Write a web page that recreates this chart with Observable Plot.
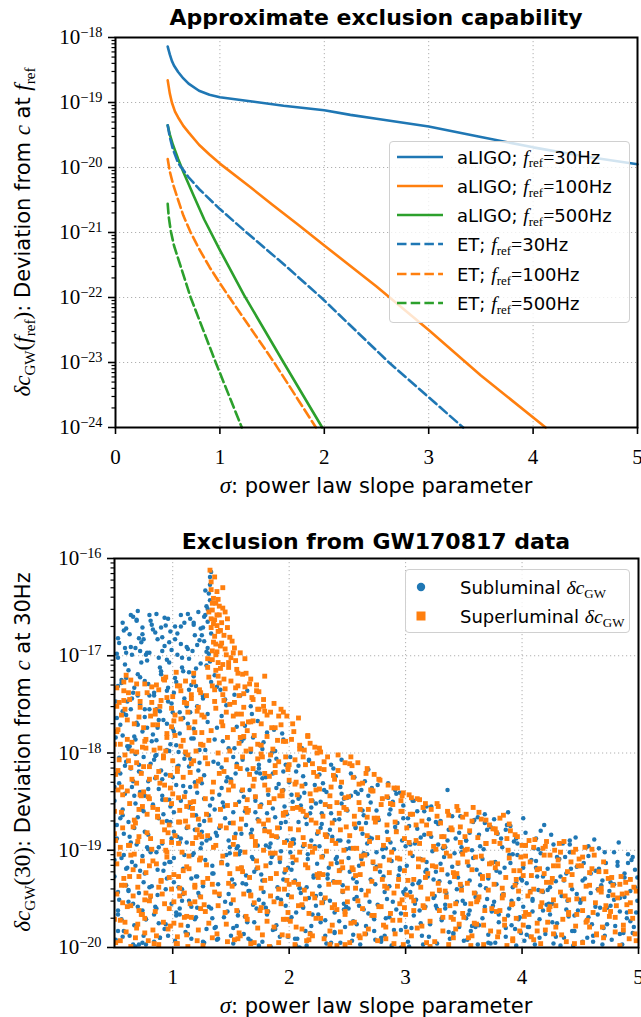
<!DOCTYPE html>
<html><head><meta charset="utf-8">
<script src="https://cdn.jsdelivr.net/npm/d3@7"></script>
<script src="https://cdn.jsdelivr.net/npm/@observablehq/plot@0.6"></script>
<style>
body{margin:0;background:#fff;}
#wrap{position:relative;width:641px;height:1017px;overflow:hidden;font-family:"DejaVu Sans",sans-serif;color:#000;}
.abs{position:absolute;white-space:nowrap;}
.title{font-weight:700;font-size:22px;line-height:28px;left:115px;width:522px;text-align:center;}
.xlab{font-size:21px;line-height:28px;left:115px;width:522px;text-align:center;}
.ylab{font-size:21px;line-height:26px;transform:translate(-50%,-50%) rotate(-90deg);}
.m{font-family:"Liberation Serif",serif;font-style:italic;font-size:1.1em;}
.r{font-family:"Liberation Serif",serif;font-size:1.1em;}
.sub{font-family:"Liberation Serif",serif;font-size:0.72em;position:relative;top:0.3em;}
.legend{position:absolute;background:rgba(255,255,255,0.8);border:1px solid #d0d0d0;border-radius:4px;box-sizing:border-box;}
.lt{position:absolute;font-size:18px;line-height:22px;white-space:nowrap;}
svg{position:absolute;left:0;}
</style></head>
<body><div id="wrap"></div>
<script>
// ---------- top panel: approximate exclusion capability (sigma, log10 deltaC) ----------
const xTicksTop = [0, 1, 2, 3, 4, 5];
const decadesTop = [-24, -23, -22, -21, -20, -19, -18];
const aLIGO30 = [[0.5,-18.14],[0.52,-18.26],[0.54,-18.36],[0.56,-18.43],[0.6,-18.53],[0.65,-18.63],[0.7,-18.71],[0.8,-18.82],[0.9,-18.88],[1.0,-18.92],[1.29,-18.98],[1.61,-19.05],[2.0,-19.12],[2.25,-19.19],[2.5,-19.25],[3.0,-19.37],[3.5,-19.53],[4.0,-19.69],[4.5,-19.83],[5.0,-19.95]];
const aLIGO100 = [[0.5,-18.66],[0.52,-18.86],[0.54,-19.0],[0.57,-19.14],[0.6,-19.23],[0.65,-19.36],[0.7,-19.46],[0.8,-19.65],[0.9,-19.8],[1.0,-19.94],[1.29,-20.3],[1.5,-20.57],[1.75,-20.88],[2.0,-21.2],[2.5,-21.83],[3.0,-22.5],[3.5,-23.2],[4.12,-24.0]];
const aLIGO500 = [[0.5,-19.35],[0.52,-19.49],[0.55,-19.65],[0.6,-19.87],[0.65,-20.07],[0.75,-20.44],[0.85,-20.8],[1.0,-21.27],[1.23,-21.96],[1.61,-23.0],[1.98,-24.0]];
const ET30 = [[0.5,-19.35],[0.52,-19.53],[0.55,-19.72],[0.6,-19.93],[0.7,-20.15],[0.8,-20.33],[1.0,-20.64],[1.27,-21.02],[1.62,-21.5],[1.97,-22.0],[2.62,-23.0],[3.33,-24.0]];
const ET100 = [[0.5,-19.87],[0.52,-20.06],[0.55,-20.25],[0.6,-20.5],[0.65,-20.74],[0.72,-21.0],[0.8,-21.25],[0.9,-21.53],[1.0,-21.78],[1.1,-22.02],[1.52,-23.0],[1.92,-24.0]];
const ET500 = [[0.5,-20.56],[0.51,-20.76],[0.53,-20.98],[0.56,-21.2],[0.62,-21.5],[0.72,-22.0],[0.84,-22.5],[0.96,-23.0],[1.21,-24.0]];
const seriesData = [aLIGO30, aLIGO100, aLIGO500, ET30, ET100, ET500];
const seriesColors = ["#1f77b4","#ff7f0e","#2ca02c","#1f77b4","#ff7f0e","#2ca02c"];
const seriesDashed = [false,false,false,true,true,true];
const legendDetector = ["aLIGO","aLIGO","aLIGO","ET","ET","ET"];
const legendFreq = ["30Hz","100Hz","500Hz","30Hz","100Hz","500Hz"];

// ---------- bottom panel: GW170817 exclusion (sigma, log10 deltaC at 30Hz) ----------
const xTicksBottom = [1, 2, 3, 4, 5];
const decadesBottom = [-20, -19, -18, -17, -16];
const subluminalColumns = [
[0.51,-19.92],[0.56,-19.71],[0.63,-19.88],[0.70,-19.58],[0.74,-19.95],[0.53,-19.43],[0.60,-19.36],[0.67,-19.77],[0.72,-19.21],[0.58,-19.05],[0.52,-18.88],[0.65,-19.12],[0.69,-18.94],[0.55,-18.67],[0.62,-18.71],[0.73,-18.58],[0.50,-18.35],[0.59,-18.42],[0.66,-18.29],[0.71,-18.12],[0.54,-18.05],[0.61,-17.93],[0.68,-18.01],[0.74,-17.78],[0.52,-17.64],[0.57,-17.82],[0.64,-17.55],[0.70,-17.41],[0.56,-17.28],[0.62,-17.15],[0.67,-17.33],[0.73,-17.07],[0.59,-16.92],[0.65,-16.99],[0.71,-16.82],[0.57,-16.66],[0.66,-16.6],[0.70,-16.54],[0.63,-16.78],[0.74,-16.71],[0.53,-17.02],[0.51,-17.47],[0.60,-17.61],[0.69,-17.69],[0.55,-18.21],[0.64,-18.16],[0.72,-18.4],[0.58,-18.83],[0.68,-18.52],[0.62,-19.53],[0.53,-19.66],[0.66,-19.97],[0.71,-19.44],[0.57,-19.89],[0.74,-19.62],[0.61,-19.18],[0.50,-19.1],[0.68,-17.86],[0.72,-16.95],[0.60,-17.23],[0.54,-16.87],[0.67,-18.77],
[0.77,-19.97],[0.93,-19.81],[0.84,-19.66],[0.99,-19.55],[0.80,-19.38],[0.89,-19.9],[0.76,-19.24],[0.95,-19.29],[0.86,-19.02],[0.79,-18.84],[0.91,-18.93],[0.98,-18.71],[0.83,-18.55],[0.75,-18.6],[0.88,-18.37],[0.94,-18.22],[0.81,-18.11],[0.97,-17.98],[0.86,-17.87],[0.78,-17.74],[0.92,-17.66],[0.99,-17.49],[0.84,-17.41],[0.76,-17.26],[0.90,-17.19],[0.95,-17.04],[0.80,-16.97],[0.87,-16.83],[0.98,-16.75],[0.82,-16.68],[0.86,-16.57],[0.93,-16.9],[0.77,-16.99],[0.89,-17.57],[0.96,-17.33],[0.79,-18.29],[0.85,-18.03],[0.91,-18.48],[0.97,-19.12],[0.81,-19.48],[0.88,-19.75],[0.94,-19.4],[0.75,-19.88],[0.99,-18.88],[0.83,-17.81],[0.90,-16.71],[0.78,-18.97],[0.95,-17.7],[0.87,-19.2],[0.80,-17.55],[0.92,-18.63],[0.84,-19.94],[0.97,-16.86],[0.76,-18.44],[0.89,-17.12],
[1.02,-19.93],[1.11,-19.84],[1.19,-19.71],[1.06,-19.6],[1.23,-19.47],[1.14,-19.52],[1.01,-19.33],[1.09,-19.19],[1.17,-19.05],[1.24,-18.98],[1.04,-18.86],[1.12,-18.77],[1.20,-18.64],[1.07,-18.49],[1.15,-18.35],[1.00,-18.25],[1.22,-18.18],[1.10,-18.06],[1.03,-17.92],[1.18,-17.85],[1.13,-17.7],[1.06,-17.58],[1.21,-17.52],[1.01,-17.38],[1.16,-17.3],[1.09,-17.16],[1.24,-17.08],[1.04,-16.99],[1.12,-16.91],[1.19,-16.79],[1.07,-16.7],[1.15,-16.62],[1.22,-16.55],[1.02,-16.83],[1.10,-17.44],[1.18,-17.21],[1.05,-18.13],[1.14,-18.56],[1.23,-17.97],[1.08,-19.4],[1.16,-19.91],[1.20,-19.27],[1.03,-19.67],[1.11,-18.4],[1.25,-18.81],[1.00,-17.75],[1.17,-16.95],[1.13,-19.78],[1.06,-18.92],[1.21,-19.59],[1.09,-17.64],[1.01,-19.08],[1.24,-16.72],[1.14,-17.03],[1.19,-18.3],
[1.27,-19.95],[1.36,-19.8],[1.44,-19.69],[1.31,-19.58],[1.48,-19.45],[1.39,-19.91],[1.26,-19.37],[1.34,-19.24],[1.42,-19.12],[1.49,-19.03],[1.29,-18.9],[1.37,-18.82],[1.45,-18.67],[1.32,-18.54],[1.40,-18.43],[1.25,-18.31],[1.47,-18.25],[1.35,-18.09],[1.28,-17.97],[1.43,-17.88],[1.38,-17.74],[1.30,-17.6],[1.46,-17.51],[1.26,-17.42],[1.41,-17.35],[1.33,-17.27],[1.29,-17.1],[1.36,-17.2],[1.31,-16.98],[1.27,-16.85],[1.33,-16.77],[1.30,-16.65],[1.28,-16.58],[1.32,-16.43],[1.31,-16.36],[1.32,-16.19],[1.33,-16.14],[1.26,-16.71],[1.29,-16.49],[1.44,-18.55],[1.39,-19.35],[1.48,-18.9],[1.34,-19.7],[1.42,-18.15],[1.27,-18.7],
[1.52,-19.96],[1.61,-19.86],[1.70,-19.74],[1.56,-19.63],[1.74,-19.51],[1.65,-19.42],[1.51,-19.3],[1.59,-19.18],[1.68,-19.07],[1.73,-18.95],[1.54,-18.83],[1.63,-18.74],[1.71,-18.61],[1.57,-18.5],[1.66,-18.38],[1.50,-18.27],[1.72,-18.2],[1.60,-18.07],[1.53,-17.95],[1.69,-17.84],[1.62,-17.72],[1.55,-17.6],[1.67,-17.52],[1.58,-17.41],[1.64,-17.36],[1.70,-19.22],[1.55,-19.78],[1.63,-19.35],[1.52,-18.61],[1.68,-18.79],[1.74,-18.12],[1.59,-17.88],[1.65,-19.91],[1.57,-19.04],[1.72,-19.6],[1.61,-18.45],[1.50,-19.55],[1.67,-17.99],[1.54,-18.21],[1.73,-17.67],[1.62,-19.68],[1.56,-18.96],
[1.77,-19.94],[1.86,-19.82],[1.95,-19.71],[1.80,-19.59],[1.99,-19.46],[1.90,-19.38],[1.76,-19.25],[1.84,-19.13],[1.93,-19.01],[1.98,-18.9],[1.79,-18.78],[1.88,-18.66],[1.96,-18.55],[1.82,-18.43],[1.91,-18.32],[1.75,-18.21],[1.97,-18.12],[1.85,-18.0],[1.78,-17.89],[1.94,-17.8],[1.87,-17.76],[1.81,-19.66],[1.92,-19.89],[1.99,-19.18],[1.83,-18.97],[1.76,-18.53],[1.89,-18.06],[1.95,-18.38],[1.78,-19.43],[1.86,-19.05],[1.93,-18.72],[1.80,-18.25],[1.97,-19.57],[1.84,-19.99],[1.90,-18.87],[1.77,-17.96],
[2.07,-19.91],[2.19,-19.78],[2.02,-19.69],[2.14,-19.83],[2.23,-19.57],[2.10,-19.44],[2.05,-19.31],[2.21,-19.26],[2.16,-19.09],[2.01,-19.02],[2.12,-18.96],[2.24,-18.83],[2.08,-18.71],[2.18,-18.62],[2.03,-18.5],[2.13,-18.41],[2.22,-18.33],[2.06,-18.19],[2.17,-18.08],[2.11,-17.95],[2.04,-18.93],[2.20,-19.66],[2.09,-20.0],[2.15,-19.38],[2.00,-18.3],[2.23,-18.52],[2.12,-19.58],[2.06,-19.98],[2.19,-18.9],[2.02,-19.2],[2.14,-18.66],[2.24,-19.14],[2.09,-18.45],[2.17,-19.49],
[2.31,-19.88],[2.44,-19.95],[2.27,-19.74],[2.39,-19.64],[2.48,-19.79],[2.35,-19.52],[2.26,-19.37],[2.46,-19.43],[2.33,-19.25],[2.41,-19.13],[2.29,-19.06],[2.49,-18.99],[2.37,-18.86],[2.28,-18.73],[2.43,-18.68],[2.34,-18.55],[2.47,-18.47],[2.30,-18.38],[2.40,-18.24],[2.36,-18.12],[2.45,-18.07],[2.26,-18.96],[2.38,-19.32],[2.32,-19.96],[2.42,-18.9],[2.49,-19.58],[2.27,-18.5],[2.35,-18.79],[2.44,-19.2],[2.30,-19.5],[2.39,-19.85],
[2.54,-19.93],[2.66,-19.86],[2.73,-19.71],[2.58,-19.76],[2.51,-19.6],[2.69,-19.53],[2.62,-19.41],[2.55,-19.29],[2.74,-19.35],[2.60,-19.16],[2.67,-19.04],[2.52,-18.98],[2.71,-18.88],[2.57,-18.77],[2.64,-18.64],[2.50,-18.59],[2.70,-18.51],[2.59,-18.42],[2.65,-18.29],[2.53,-18.21],[2.68,-18.17],[2.61,-19.97],[2.72,-19.13],[2.56,-19.5],[2.63,-18.83],[2.74,-19.92],[2.57,-18.4],[2.68,-19.65],[2.51,-19.08],[2.66,-18.72],
[2.79,-19.9],[2.88,-19.98],[2.96,-19.82],[2.83,-19.7],[2.76,-19.56],[2.92,-19.61],[2.99,-19.45],[2.86,-19.37],[2.78,-19.22],[2.95,-19.18],[2.81,-19.07],[2.90,-18.99],[2.97,-18.9],[2.84,-18.81],[2.77,-18.69],[2.93,-18.72],[2.87,-18.58],[2.80,-18.47],[2.98,-18.54],[2.91,-18.38],[2.85,-18.31],[2.94,-19.3],[2.82,-19.88],[2.89,-19.53],[2.75,-19.02],[2.96,-20.0],[2.87,-18.92],
[3.02,-19.94],[3.14,-19.88],[3.21,-19.76],[3.07,-19.67],[3.17,-19.58],[3.24,-19.49],[3.04,-19.43],[3.11,-19.34],[3.19,-19.27],[3.01,-19.16],[3.13,-19.09],[3.23,-19.01],[3.08,-18.93],[3.16,-18.84],[3.03,-18.75],[3.20,-18.68],[3.10,-18.6],[3.06,-18.49],[3.22,-18.55],[3.15,-19.97],[3.05,-19.8],[3.18,-19.12],[3.12,-19.62],[3.00,-18.96],[3.24,-19.3],
[3.27,-19.96],[3.38,-19.91],[3.46,-19.79],[3.31,-19.72],[3.42,-19.64],[3.26,-19.57],[3.49,-19.52],[3.35,-19.44],[3.29,-19.32],[3.45,-19.28],[3.40,-19.17],[3.33,-19.07],[3.48,-19.02],[3.28,-18.94],[3.43,-18.88],[3.37,-18.79],[3.30,-18.7],[3.47,-18.65],[3.36,-18.38],[3.41,-19.85],[3.34,-19.6],[3.26,-19.22],[3.44,-19.4],[3.32,-18.98],
[3.53,-19.92],[3.62,-19.97],[3.71,-19.87],[3.57,-19.78],[3.66,-19.7],[3.74,-19.63],[3.51,-19.55],[3.60,-19.48],[3.69,-19.39],[3.55,-19.31],[3.64,-19.25],[3.72,-19.14],[3.58,-19.08],[3.67,-18.99],[3.52,-18.9],[3.63,-18.84],[3.73,-18.76],[3.59,-18.69],[3.68,-18.63],[3.56,-19.83],[3.70,-19.5],[3.61,-19.2],[3.54,-19.66],
[3.77,-19.95],[3.86,-19.89],[3.94,-19.81],[3.80,-19.74],[3.98,-19.69],[3.89,-19.6],[3.76,-19.53],[3.84,-19.45],[3.92,-19.38],[3.99,-19.29],[3.81,-19.23],[3.90,-19.13],[3.96,-19.05],[3.83,-18.97],[3.93,-18.91],[3.79,-18.83],[3.87,-18.74],[3.88,-18.61],[3.95,-19.98],[3.78,-19.35],[3.91,-19.77],[3.85,-19.18],[3.97,-19.5],
[4.02,-19.93],[4.11,-19.97],[4.20,-19.86],[4.06,-19.79],[4.15,-19.71],[4.24,-19.66],[4.01,-19.58],[4.09,-19.5],[4.18,-19.43],[4.04,-19.34],[4.13,-19.27],[4.22,-19.19],[4.08,-19.1],[4.16,-19.03],[4.03,-18.95],[4.12,-18.88],[4.19,-18.74],[4.23,-19.55],[4.07,-19.89],[4.14,-19.41],
[4.27,-19.96],[4.36,-19.9],[4.45,-19.83],[4.30,-19.75],[4.40,-19.68],[4.48,-19.62],[4.26,-19.55],[4.34,-19.47],[4.43,-19.4],[4.29,-19.32],[4.38,-19.24],[4.47,-19.17],[4.32,-19.09],[4.41,-19.02],[4.35,-18.93],[4.46,-18.87],[4.28,-19.86],[4.44,-19.98],[4.39,-19.52],
[4.52,-19.94],[4.61,-19.88],[4.70,-19.8],[4.55,-19.73],[4.65,-19.66],[4.73,-19.59],[4.51,-19.51],[4.59,-19.44],[4.68,-19.36],[4.54,-19.29],[4.63,-19.21],[4.72,-19.13],[4.57,-19.06],[4.66,-18.98],[4.62,-18.89],[4.69,-19.97],[4.74,-19.47],[4.56,-19.9],
[4.77,-19.92],[4.86,-19.97],[4.95,-19.85],[4.80,-19.78],[4.90,-19.7],[4.98,-19.64],[4.76,-19.57],[4.84,-19.49],[4.93,-19.42],[4.79,-19.35],[4.88,-19.28],[4.97,-19.2],[4.82,-19.12],[4.91,-19.04],[4.95,-19.07],[4.83,-18.92],[4.87,-19.85],[4.99,-19.52]
];
const subluminalBands = [
[0.53,-19.62],[0.58,-19.83],[0.66,-19.55],[0.71,-19.97],[0.77,-19.71],[0.85,-19.58],[0.89,-19.9],[0.94,-19.76],[1.03,-19.64],[1.08,-19.52],[1.13,-19.86],[1.2,-19.69],[1.26,-19.94],[1.33,-19.6],[1.37,-19.79],[1.45,-19.53],[1.5,-19.88],[1.56,-19.67],[1.64,-19.74],[1.69,-19.56],[1.74,-19.98],[1.82,-19.63],[1.88,-19.81],[1.93,-19.51],[2.0,-19.72],[2.05,-19.91],[2.12,-19.59],[2.18,-19.85],[2.25,-19.66],[2.29,-19.54],[2.36,-19.95],[2.43,-19.73],[2.47,-19.61],[2.55,-19.87],[2.6,-19.57],[2.66,-19.78],[2.72,-19.68],[2.79,-19.92],[2.84,-19.5],[2.9,-19.82],[2.96,-19.65],[3.03,-19.99],[3.08,-19.55],[3.13,-19.75],[3.2,-19.89],[3.27,-19.6],[3.31,-19.7],[3.37,-19.84],[3.44,-19.53],[3.5,-19.93],[3.55,-19.62],[3.63,-19.77],[3.68,-19.58],[3.73,-19.96],[3.8,-19.66],[3.86,-19.8],[3.91,-19.52],[3.97,-19.71],[4.04,-19.87],[4.09,-19.63],[4.15,-19.9],[4.21,-19.56],[4.26,-19.74],[4.33,-19.98],[4.38,-19.61],[4.43,-19.83],[4.5,-19.54],[4.57,-19.69],[4.61,-19.94],[4.67,-19.59],[4.73,-19.76],[4.79,-19.51],[4.84,-19.86],[4.9,-19.64],[4.96,-19.79],
[0.5,-19.27],[0.56,-19.08],[0.62,-19.41],[0.68,-19.16],[0.75,-19.33],[0.81,-19.02],[0.87,-19.46],[0.92,-19.21],[0.98,-19.12],[1.05,-19.38],[1.1,-19.05],[1.16,-19.29],[1.22,-19.44],[1.28,-19.1],[1.35,-19.24],[1.4,-19.47],[1.47,-19.15],[1.53,-19.35],[1.58,-19.01],[1.66,-19.42],[1.72,-19.19],[1.77,-19.31],[1.85,-19.07],[1.9,-19.49],[1.96,-19.23],[2.03,-19.13],[2.09,-19.39],[2.16,-19.04],[2.21,-19.28],[2.27,-19.45],[2.34,-19.18],[2.4,-19.09],[2.46,-19.36],[2.52,-19.22],[2.58,-19.48],[2.64,-19.03],[2.7,-19.3],[2.75,-19.17],[2.82,-19.43],[2.88,-19.11],[2.94,-19.26],[3.0,-19.4],[3.06,-19.06],[3.12,-19.32],[3.18,-19.2],[3.25,-19.47],[3.3,-19.14],[3.36,-19.25],[3.42,-19.03],[3.48,-19.37],[3.54,-19.16],[3.6,-19.44],[3.66,-19.09],[3.71,-19.29],[3.78,-19.21],[3.83,-19.46],[3.89,-19.05],[3.95,-19.34],[4.01,-19.18],[4.07,-19.42],[4.12,-19.11],[4.18,-19.27],[4.24,-19.38],[4.3,-19.07],[4.36,-19.31],[4.42,-19.19],[4.47,-19.45],[4.53,-19.13],[4.59,-19.24],[4.65,-19.4],[4.71,-19.02],[4.76,-19.33],[4.82,-19.16],[4.88,-19.48],[4.94,-19.1],[4.99,-19.28],
[0.52,-18.74],[0.57,-18.58],[0.64,-18.92],[0.7,-18.66],[0.76,-18.81],[0.83,-18.53],[0.88,-18.97],[0.95,-18.7],[1.01,-18.61],[1.07,-18.88],[1.14,-18.55],[1.19,-18.79],[1.25,-18.93],[1.31,-18.64],[1.38,-18.85],[1.43,-18.51],[1.49,-18.72],[1.55,-18.98],[1.62,-18.6],[1.67,-18.83],[1.73,-18.68],[1.8,-18.95],[1.86,-18.57],[1.92,-18.77],[1.98,-18.63],[2.04,-18.89],[2.1,-18.54],[2.15,-18.73],[2.22,-18.96],[2.28,-18.62],[2.33,-18.84],[2.39,-18.69],[2.45,-18.52],[2.51,-18.91],[2.57,-18.76],[2.63,-18.59],[2.69,-18.87],[2.74,-18.71],[2.8,-18.99],[2.86,-18.63],[2.92,-18.8],[2.98,-18.67],[3.04,-18.94],[3.1,-18.78],[3.16,-18.6],[3.22,-18.86],[3.28,-18.73],[3.34,-18.97],[3.4,-18.65],[3.46,-18.82],[3.52,-18.9],[3.58,-18.71],[3.64,-18.96],[3.7,-18.79],[3.76,-18.68],[3.82,-18.88],[3.9,-18.75],[3.96,-18.93],[4.03,-18.82],[4.1,-18.98],[4.16,-18.8],[4.27,-18.94],[4.41,-18.9],[4.55,-18.97],
[0.54,-18.31],[0.6,-18.09],[0.67,-18.44],[0.73,-18.2],[0.79,-18.37],[0.86,-18.02],[0.91,-18.27],[0.97,-18.48],[1.04,-18.14],[1.09,-18.34],[1.15,-18.06],[1.21,-18.41],[1.27,-18.23],[1.34,-18.47],[1.39,-18.11],[1.46,-18.29],[1.52,-18.04],[1.59,-18.39],[1.64,-18.17],[1.71,-18.45],[1.77,-18.26],[1.83,-18.08],[1.89,-18.36],[1.95,-18.19],[2.02,-18.43],[2.08,-18.13],[2.14,-18.32],[2.2,-18.49],[2.26,-18.22],[2.32,-18.4],[2.38,-18.16],[2.44,-18.35],[2.5,-18.46],[2.56,-18.25],[2.62,-18.38],[2.68,-18.44],[2.76,-18.33],[2.85,-18.46],[2.95,-18.41],[3.07,-18.49],
[0.51,-17.84],[0.58,-17.6],[0.63,-17.93],[0.7,-17.71],[0.76,-17.55],[0.82,-17.88],[0.88,-17.66],[0.95,-17.97],[1.0,-17.58],[1.06,-17.8],[1.12,-17.52],[1.18,-17.75],[1.24,-17.91],[1.3,-17.68],[1.36,-17.86],[1.42,-17.62],[1.48,-17.95],[1.55,-17.73],[1.61,-17.85],[1.68,-17.6],[1.75,-17.92],[1.81,-17.79],[1.88,-17.98],[1.95,-17.86],
[0.53,-17.31],[0.59,-17.09],[0.65,-17.44],[0.72,-17.22],[0.78,-17.05],[0.84,-17.38],[0.9,-17.16],[0.96,-17.47],[1.03,-17.27],[1.08,-17.02],[1.14,-17.35],[1.2,-17.13],[1.26,-17.41],[1.32,-17.06],[1.38,-17.32],[1.45,-17.45],[1.53,-17.4],
[0.6,-16.72],[0.64,-16.91],[0.69,-16.64],[0.75,-16.83],[0.8,-16.58],[0.85,-16.76],[0.91,-16.95],[0.96,-16.62],[1.02,-16.7],[1.07,-16.88],[1.13,-16.57],[1.18,-16.66],[1.23,-16.84],[1.27,-16.6],[1.3,-16.92]
];
const subluminalScatter = [
[0.52,-16.98],[0.61,-17.47],[0.58,-16.74],[0.79,-17.29],[0.93,-16.61],[1.08,-17.12],[0.67,-17.83],[1.21,-16.89],[0.84,-18.07],[0.73,-16.86],[1.15,-17.58],[0.55,-17.71],[0.98,-17.91],[1.3,-16.52],[0.64,-16.58],[0.88,-17.02],[1.04,-16.77],[0.7,-17.19],[1.26,-17.44],[0.81,-16.64],[0.95,-17.36],[1.11,-18.01],[0.59,-18.13],[0.76,-17.63],[1.18,-16.68],[0.91,-16.81],[1.01,-17.78],[0.68,-16.92],[0.86,-17.55],[1.23,-18.1],[0.53,-16.82],[1.13,-16.93],[0.78,-16.97],[0.62,-17.96],[0.97,-17.07],[1.07,-16.58],[0.72,-17.5],[1.29,-16.96],[0.9,-18.18],[0.56,-17.25],[1.16,-17.85],[0.83,-16.73],[1.02,-17.23],[0.66,-17.38],[0.94,-16.69],[1.2,-17.31],[0.75,-18.04],[1.1,-16.66],[0.6,-16.97],[0.87,-17.74],[1.05,-17.99],[0.69,-16.63],[1.25,-16.79],[0.8,-17.41],[0.99,-16.94],[0.57,-17.57],[1.14,-17.17],[0.74,-16.78],[1.32,-16.27],[1.28,-16.33],
[0.63,-18.86],[1.47,-19.63],[2.12,-18.24],[0.82,-19.37],[1.71,-18.49],[2.39,-19.84],[1.03,-18.33],[1.92,-19.12],[0.54,-19.51],[2.27,-18.77],[1.36,-18.58],[0.96,-19.88],[1.63,-19.26],[2.45,-18.42],[0.71,-18.19],[1.18,-19.03],[2.06,-19.64],[1.55,-18.11],[0.88,-18.67],[2.33,-19.29],[1.29,-19.81],[0.6,-19.19],[1.84,-18.93],[2.19,-18.56],[1.09,-19.45],[0.77,-19.71],[1.42,-18.36],[2.01,-18.04],[1.67,-19.93],[0.5,-18.49],[2.41,-19.07],[1.23,-18.74],[0.93,-19.14],[1.78,-19.55],[2.15,-19.98],[1.34,-19.16],[0.68,-19.99],[1.97,-18.71],[1.12,-18.92],[2.29,-18.31],[0.85,-18.26],[1.59,-18.83],[2.09,-19.39],[1.46,-19.05],[0.57,-18.64],[1.89,-19.77],[1.16,-19.58],[2.36,-18.62],[0.74,-19.06],[1.74,-18.16],[2.23,-19.47],[1.01,-18.81],[1.38,-19.92],[0.91,-18.44],[2.03,-18.89],[1.6,-19.34],[0.65,-18.35],[1.27,-18.47],[2.47,-19.55],[1.95,-19.3],[0.79,-18.99],[1.52,-19.8],[2.17,-18.07],[1.06,-19.66],[1.81,-18.62],[0.53,-19.83],[1.4,-18.77],[2.31,-19.72],[0.98,-18.55],[1.69,-19.09],[2.08,-18.47],[1.21,-19.27],[0.86,-19.6],[1.86,-18.21],[2.44,-18.9],[1.49,-18.97],[0.62,-19.42],[1.14,-18.14],[1.99,-19.89],[1.32,-18.88],
[2.58,-19.33],[3.41,-19.86],[4.22,-19.41],[2.91,-18.76],[3.77,-19.12],[4.63,-19.58],[3.09,-19.51],[2.67,-18.93],[4.05,-19.79],[3.55,-18.82],[4.88,-19.24],[2.79,-19.94],[3.26,-18.71],[4.37,-19.07],[3.88,-19.67],[2.53,-18.44],[4.71,-19.88],[3.17,-19.22],[2.98,-19.43],[4.14,-18.99],[3.64,-19.36],[4.52,-19.31],[2.71,-18.36],[3.34,-19.56],[4.93,-19.73],[3.95,-18.88],[2.86,-19.69],[4.29,-19.89],[3.48,-18.97],[4.79,-19.02],[3.02,-18.67],[3.71,-19.95],[2.62,-19.09],[4.45,-19.67],[3.21,-19.99],[4.0,-19.31],[2.95,-19.2],[3.83,-19.47],[4.57,-18.96],[3.38,-19.33],[2.75,-18.59],[4.18,-19.62],[3.6,-19.79],[4.97,-19.38],[3.13,-18.87],[2.55,-19.73],[4.33,-19.27],[3.92,-19.04],[2.83,-18.98],[4.66,-19.19],[3.45,-19.14],[4.09,-19.52],[3.0,-19.79],[4.84,-19.63],[3.68,-18.72],[2.64,-19.61],[4.41,-18.94],[3.29,-19.42],[3.99,-19.85],[2.89,-18.5],[4.75,-19.42],[3.57,-19.0],[4.25,-18.84],[3.06,-19.35],[2.73,-19.83],[4.6,-19.76],[3.86,-18.79],[3.18,-18.55],[4.91,-19.13],[2.6,-18.72],[3.75,-19.57],[4.12,-19.18],[3.52,-19.7],[2.92,-18.42],[4.48,-19.5],[3.36,-18.9],[4.01,-18.67],[3.62,-18.66],[4.69,-19.31],[2.81,-19.27]
];
const superluminalColumns = [
[0.51,-19.95],[0.60,-19.84],[0.68,-19.9],[0.55,-19.72],[0.73,-19.66],[0.64,-19.57],[0.52,-19.45],[0.70,-19.38],[0.58,-19.29],[0.66,-19.2],[0.74,-19.11],[0.54,-19.04],[0.62,-18.95],[0.71,-18.86],[0.57,-18.77],[0.67,-18.69],[0.50,-18.6],[0.63,-18.52],[0.72,-18.43],[0.56,-18.35],[0.65,-18.27],[0.53,-18.18],[0.69,-18.1],[0.59,-18.02],[0.74,-17.94],[0.61,-17.86],[0.52,-17.78],[0.67,-17.7],[0.56,-17.61],[0.72,-17.53],[0.63,-17.45],[0.58,-17.36],[0.69,-17.29],[0.60,-17.2],[0.54,-17.48],[0.65,-17.98],[0.71,-18.58],[0.57,-19.54],[0.64,-19.99],[0.51,-18.9],[0.70,-19.76],[0.61,-18.39],[0.73,-18.21],[0.55,-17.91],[0.66,-19.47],
[0.79,-19.93],[0.88,-19.97],[0.96,-19.81],[0.76,-19.7],[0.85,-19.63],[0.93,-19.55],[0.81,-19.47],[0.99,-19.4],[0.90,-19.31],[0.77,-19.23],[0.86,-19.14],[0.95,-19.07],[0.82,-18.99],[0.91,-18.91],[0.78,-18.82],[0.97,-18.74],[0.87,-18.65],[0.83,-18.56],[0.94,-18.48],[0.75,-18.4],[0.89,-18.31],[0.98,-18.23],[0.80,-18.14],[0.92,-18.05],[0.84,-17.97],[0.76,-17.88],[0.95,-17.8],[0.87,-17.71],[0.81,-17.62],[0.99,-17.54],[0.90,-17.46],[0.78,-17.38],[0.86,-17.3],[0.93,-17.25],[0.83,-19.82],[0.97,-19.28],[0.79,-18.45],[0.91,-18.71],[0.85,-17.56],[0.99,-18.92],[0.76,-19.51],[0.94,-17.98],[0.88,-19.38],[0.80,-18.27],
[1.03,-19.96],[1.12,-19.87],[1.21,-19.93],[1.07,-19.77],[1.16,-19.69],[1.24,-19.6],[1.01,-19.53],[1.10,-19.44],[1.19,-19.36],[1.05,-19.27],[1.14,-19.19],[1.23,-19.1],[1.08,-19.02],[1.17,-18.93],[1.02,-18.85],[1.13,-18.76],[1.22,-18.68],[1.06,-18.59],[1.15,-18.51],[1.00,-18.42],[1.20,-18.34],[1.09,-18.25],[1.04,-18.16],[1.18,-18.08],[1.11,-17.99],[1.24,-17.91],[1.02,-17.82],[1.14,-17.74],[1.07,-17.65],[1.21,-17.57],[1.10,-17.48],[1.16,-17.4],[1.04,-17.31],[1.18,-17.18],[1.23,-17.35],[1.12,-18.55],[1.06,-19.39],[1.20,-18.87],[1.01,-19.75],[1.15,-18.2],[1.09,-17.87],[1.24,-19.48],[1.13,-19.99],[1.05,-18.71],[1.19,-17.68],
[1.32,-16.12],[1.33,-16.24],[1.38,-16.34],[1.37,-16.46],[1.34,-16.53],[1.40,-16.58],[1.36,-16.63],[1.42,-16.66],[1.33,-16.71],[1.39,-16.75],[1.44,-16.79],[1.35,-16.86],[1.41,-16.9],[1.38,-16.96],[1.46,-16.99],[1.34,-17.04],[1.43,-17.09],[1.37,-17.15],[1.48,-17.12],[1.31,-17.22],[1.40,-17.28],[1.45,-17.34],[1.29,-17.41],[1.36,-17.47],[1.49,-17.5],[1.27,-17.63],[1.42,-17.68],[1.33,-17.77],[1.47,-17.84],[1.26,-17.92],[1.39,-18.0],[1.30,-18.11],[1.44,-18.19],[1.35,-18.3],[1.48,-18.38],[1.28,-18.47],[1.41,-18.58],[1.32,-18.69],[1.46,-18.77],[1.25,-18.86],[1.37,-18.95],[1.43,-19.06],[1.29,-19.15],[1.49,-19.24],[1.34,-19.35],[1.40,-19.45],[1.27,-19.56],[1.45,-19.64],[1.31,-19.75],[1.38,-19.86],[1.47,-19.94],[1.26,-19.98],[1.36,-16.8],[1.43,-17.4],[1.30,-18.85],
[1.51,-16.85],[1.54,-17.05],[1.58,-16.97],[1.63,-17.18],[1.67,-17.24],[1.72,-17.3],[1.56,-17.31],[1.61,-17.39],[1.53,-17.48],[1.69,-17.45],[1.74,-17.55],[1.59,-17.6],[1.65,-17.68],[1.52,-17.76],[1.70,-17.82],[1.57,-17.9],[1.63,-17.98],[1.73,-18.06],[1.55,-18.14],[1.66,-18.22],[1.50,-18.3],[1.60,-18.38],[1.71,-18.45],[1.54,-18.53],[1.64,-18.61],[1.74,-18.7],[1.58,-18.78],[1.68,-18.86],[1.52,-18.94],[1.62,-19.02],[1.72,-19.11],[1.56,-19.19],[1.66,-19.28],[1.51,-19.37],[1.61,-19.45],[1.70,-19.54],[1.55,-19.62],[1.64,-19.71],[1.73,-19.8],[1.58,-19.88],[1.67,-19.96],[1.53,-19.92],[1.69,-18.16],[1.60,-17.7],
[1.78,-17.52],[1.84,-17.58],[1.93,-17.55],[1.98,-17.62],[1.76,-17.7],[1.88,-17.74],[1.81,-17.83],[1.95,-17.88],[1.86,-17.96],[1.77,-18.04],[1.91,-18.09],[1.99,-18.17],[1.83,-18.24],[1.79,-18.33],[1.94,-18.39],[1.87,-18.47],[1.75,-18.55],[1.97,-18.61],[1.82,-18.69],[1.90,-18.77],[1.85,-18.85],[1.96,-18.92],[1.78,-19.0],[1.92,-19.08],[1.80,-19.16],[1.89,-19.24],[1.98,-19.31],[1.76,-19.39],[1.84,-19.47],[1.93,-19.55],[1.81,-19.63],[1.95,-19.71],[1.87,-19.79],[1.77,-19.87],[1.91,-19.95],[1.99,-19.88],[1.83,-19.99],[1.88,-18.13],[1.79,-18.8],[1.96,-19.4],
[2.02,-17.86],[2.09,-17.92],[2.18,-17.9],[2.24,-18.0],[2.05,-18.07],[2.14,-18.12],[2.21,-18.2],[2.00,-18.28],[2.11,-18.34],[2.07,-18.43],[2.19,-18.49],[2.03,-18.57],[2.15,-18.64],[2.23,-18.72],[2.08,-18.79],[2.12,-18.87],[2.01,-18.95],[2.20,-19.02],[2.06,-19.1],[2.16,-19.18],[2.24,-19.25],[2.04,-19.33],[2.13,-19.41],[2.22,-19.49],[2.08,-19.57],[2.17,-19.65],[2.01,-19.73],[2.11,-19.81],[2.20,-19.88],[2.05,-19.97],[2.15,-19.93],[2.23,-18.38],[2.10,-18.58],[2.02,-19.48],[2.18,-18.96],
[2.27,-17.99],[2.33,-18.04],[2.42,-18.02],[2.48,-18.1],[2.30,-18.17],[2.38,-18.23],[2.45,-18.3],[2.26,-18.37],[2.35,-18.44],[2.41,-18.51],[2.49,-18.58],[2.29,-18.65],[2.37,-18.72],[2.44,-18.79],[2.32,-18.86],[2.40,-18.93],[2.47,-19.0],[2.28,-19.07],[2.36,-19.14],[2.43,-19.21],[2.25,-19.28],[2.34,-19.35],[2.46,-19.42],[2.31,-19.49],[2.39,-19.56],[2.48,-19.63],[2.27,-19.7],[2.37,-19.77],[2.44,-19.84],[2.30,-19.91],[2.41,-19.98],[2.35,-18.55],[2.46,-19.18],
[2.53,-18.04],[2.59,-18.1],[2.67,-18.16],[2.73,-18.22],[2.55,-18.25],[2.63,-18.31],[2.70,-18.38],[2.51,-18.45],[2.60,-18.51],[2.68,-18.58],[2.56,-18.65],[2.74,-18.71],[2.62,-18.78],[2.52,-18.85],[2.69,-18.91],[2.58,-18.98],[2.65,-19.05],[2.72,-19.12],[2.54,-19.18],[2.61,-19.25],[2.71,-19.32],[2.57,-19.39],[2.66,-19.46],[2.50,-19.53],[2.63,-19.6],[2.73,-19.67],[2.56,-19.74],[2.68,-19.81],[2.60,-19.88],[2.52,-19.95],
[2.77,-18.27],[2.85,-18.33],[2.93,-18.36],[2.98,-18.41],[2.80,-18.47],[2.89,-18.53],[2.96,-18.6],[2.76,-18.67],[2.84,-18.74],[2.92,-18.81],[2.99,-18.88],[2.81,-18.95],[2.88,-19.02],[2.95,-19.09],[2.78,-19.16],[2.86,-19.23],[2.94,-19.3],[2.82,-19.37],[2.90,-19.44],[2.97,-19.51],[2.79,-19.58],[2.87,-19.65],[2.95,-19.72],[2.83,-19.79],[2.91,-19.86],[2.76,-19.93],[2.98,-19.97],
[3.03,-18.43],[3.12,-18.48],[3.17,-18.52],[3.22,-18.58],[3.06,-18.63],[3.14,-18.7],[3.01,-18.77],[3.20,-18.83],[3.09,-18.9],[3.24,-18.96],[3.04,-19.03],[3.15,-19.1],[3.11,-19.17],[3.19,-19.24],[3.02,-19.31],[3.13,-19.38],[3.23,-19.45],[3.07,-19.52],[3.16,-19.59],[3.00,-19.66],[3.21,-19.73],[3.10,-19.8],[3.05,-19.88],[3.18,-19.95],
[3.27,-18.52],[3.36,-18.6],[3.44,-18.55],[3.49,-18.66],[3.30,-18.72],[3.40,-18.79],[3.33,-18.86],[3.47,-18.92],[3.26,-18.99],[3.38,-19.06],[3.45,-19.13],[3.31,-19.2],[3.42,-19.27],[3.28,-19.34],[3.48,-19.41],[3.35,-19.48],[3.43,-19.55],[3.29,-19.62],[3.39,-19.69],[3.46,-19.76],[3.32,-19.83],[3.41,-19.9],[3.37,-19.97],
[3.58,-18.56],[3.52,-18.63],[3.65,-18.68],[3.72,-18.74],[3.55,-18.8],[3.62,-18.87],[3.69,-18.93],[3.51,-19.0],[3.60,-19.07],[3.74,-19.13],[3.57,-19.2],[3.66,-19.27],[3.53,-19.34],[3.71,-19.41],[3.63,-19.48],[3.56,-19.55],[3.68,-19.62],[3.50,-19.69],[3.61,-19.76],[3.73,-19.83],[3.54,-19.9],[3.67,-19.97],
[3.84,-18.64],[3.90,-18.8],[3.77,-18.78],[3.96,-18.86],[3.81,-18.93],[3.88,-19.0],[3.99,-19.07],[3.79,-19.14],[3.93,-19.21],[3.86,-19.28],[3.76,-19.35],[3.97,-19.42],[3.83,-19.49],[3.91,-19.56],[3.78,-19.63],[3.95,-19.7],[3.85,-19.77],[3.80,-19.84],[3.92,-19.91],[3.87,-19.98],
[4.11,-18.89],[4.03,-18.95],[4.18,-18.98],[4.24,-19.05],[4.07,-19.12],[4.15,-19.19],[4.01,-19.26],[4.21,-19.33],[4.10,-19.4],[4.05,-19.47],[4.17,-19.54],[4.23,-19.61],[4.02,-19.68],[4.13,-19.75],[4.20,-19.82],[4.08,-19.89],[4.16,-19.96],
[4.36,-18.91],[4.28,-19.0],[4.44,-19.02],[4.31,-19.1],[4.48,-19.16],[4.39,-19.22],[4.26,-19.29],[4.42,-19.36],[4.33,-19.43],[4.47,-19.5],[4.29,-19.57],[4.40,-19.64],[4.35,-19.71],[4.46,-19.78],[4.27,-19.86],[4.38,-19.94],
[4.54,-18.97],[4.62,-19.05],[4.70,-19.12],[4.51,-19.16],[4.66,-19.22],[4.74,-19.29],[4.58,-19.36],[4.68,-19.43],[4.53,-19.5],[4.72,-19.57],[4.61,-19.64],[4.56,-19.72],[4.69,-19.79],[4.64,-19.87],[4.52,-19.95],
[4.85,-19.27],[4.93,-19.3],[4.78,-19.36],[4.98,-19.42],[4.82,-19.49],[4.90,-19.56],[4.76,-19.63],[4.95,-19.7],[4.87,-19.77],[4.80,-19.84],[4.92,-19.91],[4.84,-19.98]
];
const superluminalBands = [
[0.5,-19.71],[0.55,-19.93],[0.61,-19.58],[0.69,-19.8],[0.74,-19.66],[0.8,-19.52],[0.86,-19.88],[0.92,-19.74],[0.97,-19.6],[1.04,-19.96],[1.1,-19.69],[1.15,-19.55],[1.22,-19.82],[1.28,-19.63],[1.34,-19.9],[1.39,-19.57],[1.46,-19.76],[1.52,-19.51],[1.57,-19.85],[1.63,-19.68],[1.7,-19.95],[1.76,-19.59],[1.81,-19.73],[1.87,-19.53],[1.94,-19.87],[1.99,-19.64],[2.06,-19.79],[2.11,-19.56],[2.17,-19.92],[2.23,-19.7],[2.28,-19.54],[2.35,-19.83],[2.41,-19.61],[2.48,-19.97],[2.53,-19.75],[2.59,-19.52],[2.65,-19.86],[2.71,-19.67],[2.77,-19.58],[2.83,-19.91],[2.89,-19.72],[2.95,-19.55],[3.01,-19.84],[3.07,-19.62],[3.14,-19.78],[3.19,-19.5],[3.25,-19.94],[3.32,-19.69],[3.38,-19.57],[3.43,-19.81],[3.49,-19.65],[3.56,-19.98],[3.61,-19.53],[3.67,-19.77],[3.74,-19.6],[3.79,-19.89],[3.85,-19.71],[3.92,-19.55],[3.98,-19.83],[4.03,-19.64],[4.1,-19.92],[4.16,-19.58],[4.22,-19.74],[4.27,-19.51],[4.34,-19.87],[4.4,-19.66],[4.45,-19.96],[4.52,-19.62],[4.58,-19.79],[4.63,-19.54],[4.7,-19.9],[4.75,-19.68],[4.81,-19.57],[4.87,-19.82],[4.93,-19.63],[4.98,-19.93],
[0.52,-19.14],[0.59,-19.36],[0.64,-19.05],[0.71,-19.27],[0.77,-19.44],[0.83,-19.11],[0.9,-19.32],[0.95,-19.02],[1.01,-19.25],[1.06,-19.47],[1.12,-19.17],[1.19,-19.38],[1.24,-19.08],[1.3,-19.29],[1.36,-19.43],[1.42,-19.13],[1.48,-19.34],[1.54,-19.04],[1.6,-19.22],[1.67,-19.46],[1.73,-19.18],[1.79,-19.31],[1.84,-19.03],[1.91,-19.4],[1.97,-19.2],[2.03,-19.07],[2.08,-19.35],[2.14,-19.15],[2.2,-19.45],[2.26,-19.24],[2.32,-19.01],[2.39,-19.33],[2.45,-19.12],[2.5,-19.39],[2.57,-19.26],[2.62,-19.06],[2.68,-19.42],[2.74,-19.19],[2.8,-19.3],[2.86,-19.1],[2.93,-19.37],[2.99,-19.21],[3.05,-19.48],[3.11,-19.09],[3.17,-19.28],[3.23,-19.16],[3.29,-19.41],[3.35,-19.03],[3.41,-19.23],[3.47,-19.35],[3.53,-19.12],[3.59,-19.44],[3.65,-19.06],[3.71,-19.26],[3.77,-19.18],[3.83,-19.39],[3.89,-19.08],[3.95,-19.3],[4.01,-19.14],[4.07,-19.43],[4.13,-19.2],[4.19,-19.05],[4.25,-19.33],[4.31,-19.16],[4.37,-19.47],[4.43,-19.25],[4.49,-19.09],[4.55,-19.37],[4.6,-19.19],[4.66,-19.41],[4.72,-19.22],[4.78,-19.46],[4.84,-19.35],[4.9,-19.44],[4.96,-19.38],
[0.5,-18.83],[0.56,-18.61],[0.63,-18.95],[0.68,-18.72],[0.74,-18.55],[0.81,-18.88],[0.87,-18.66],[0.93,-18.79],[0.99,-18.52],[1.05,-18.93],[1.11,-18.7],[1.17,-18.57],[1.23,-18.84],[1.29,-18.63],[1.35,-18.97],[1.41,-18.75],[1.47,-18.54],[1.53,-18.87],[1.59,-18.68],[1.65,-18.59],[1.71,-18.91],[1.78,-18.73],[1.83,-18.51],[1.89,-18.86],[1.95,-18.64],[2.01,-18.78],[2.07,-18.56],[2.13,-18.94],[2.19,-18.69],[2.25,-18.81],[2.31,-18.53],[2.37,-18.9],[2.43,-18.62],[2.49,-18.76],[2.55,-18.98],[2.61,-18.58],[2.67,-18.85],[2.73,-18.67],[2.79,-18.53],[2.85,-18.89],[2.91,-18.71],[2.97,-18.6],[3.03,-18.92],[3.09,-18.74],[3.15,-18.56],[3.21,-18.83],[3.27,-18.65],[3.33,-18.96],[3.39,-18.77],[3.45,-18.59],[3.51,-18.86],[3.57,-18.7],[3.63,-18.61],[3.69,-18.93],[3.75,-18.78],[3.81,-18.67],[3.87,-18.88],[3.94,-18.84],[4.0,-18.95],[4.06,-18.9],[4.2,-18.96],[4.32,-18.93],[4.46,-18.99],
[0.51,-18.22],[0.57,-18.43],[0.62,-18.08],[0.69,-18.31],[0.75,-18.14],[0.8,-18.47],[0.86,-18.25],[0.92,-18.03],[0.98,-18.36],[1.04,-18.19],[1.1,-18.45],[1.16,-18.11],[1.22,-18.29],[1.28,-18.05],[1.34,-18.4],[1.4,-18.21],[1.46,-18.07],[1.52,-18.34],[1.58,-18.16],[1.64,-18.48],[1.7,-18.27],[1.76,-18.01],[1.82,-18.38],[1.88,-18.2],[1.94,-18.44],[2.0,-18.12],[2.06,-18.3],[2.12,-18.04],[2.18,-18.42],[2.24,-18.24],[2.3,-18.09],[2.36,-18.35],[2.42,-18.18],[2.48,-18.46],[2.54,-18.13],[2.6,-18.32],[2.66,-18.21],[2.72,-18.39],[2.78,-18.28],[2.84,-18.45],[2.9,-18.36],[2.96,-18.49],[3.05,-18.46],
[0.53,-17.76],[0.59,-17.55],[0.65,-17.89],[0.71,-17.63],[0.77,-17.95],[0.83,-17.71],[0.89,-17.52],[0.95,-17.84],[1.01,-17.67],[1.07,-17.93],[1.13,-17.58],[1.19,-17.79],[1.25,-17.61],[1.31,-17.87],[1.37,-17.54],[1.43,-17.72],[1.49,-17.98],[1.55,-17.6],[1.61,-17.83],[1.67,-17.68],[1.73,-17.91],[1.79,-17.57],[1.85,-17.74],[1.91,-17.62],[1.97,-17.88],[2.03,-17.7],[2.09,-17.96],[2.16,-17.82],[2.22,-17.94],
[0.52,-17.33],[0.58,-17.46],[0.64,-17.25],[0.7,-17.39],[0.76,-17.29],[0.82,-17.48],[0.88,-17.35],[0.94,-17.22],[1.0,-17.42],[1.06,-17.31],[1.12,-17.49],[1.18,-17.27],[1.24,-17.38],[1.3,-17.12],[1.34,-17.31],[1.39,-17.07],[1.44,-17.24],[1.5,-17.02],[1.56,-17.18],[1.62,-17.32],[1.68,-17.43],[1.74,-17.37],
[1.31,-16.55],[1.33,-16.32],[1.35,-16.67],[1.36,-16.19],[1.37,-16.88],[1.39,-16.42],[1.41,-16.74],[1.43,-16.51],[1.45,-16.93],[1.47,-16.62],[1.49,-16.81],[1.52,-16.97],[1.34,-16.95],[1.38,-16.58]
];
const superluminalScatter = [
[1.35,-16.41],[1.42,-16.87],[1.39,-17.21],[1.55,-17.14],[1.47,-16.71],[1.61,-17.53],[1.33,-16.62],[1.72,-17.36],[1.44,-17.46],[1.58,-17.84],[1.37,-16.99],[1.81,-17.61],[1.66,-17.29],[1.5,-17.26],[1.93,-17.71],[1.4,-16.49],[1.76,-17.92],[1.53,-16.92],[2.04,-17.78],[1.46,-17.58],[1.69,-17.67],[1.87,-17.49],[1.36,-17.35],[1.62,-17.03],[2.13,-17.97],[1.43,-16.3],[1.97,-18.04],[1.57,-17.41],[1.79,-17.21],[2.2,-18.11],[1.48,-17.07],[1.64,-17.77],[1.34,-16.46],[1.9,-17.87],[1.52,-17.62],[2.08,-17.64],[1.41,-17.13],[1.73,-17.55],[1.6,-17.19],[1.84,-18.02],[2.26,-17.95],[1.45,-16.55],[1.95,-17.58],[1.67,-17.96],[1.38,-16.69],[1.78,-17.45],[2.16,-17.83],[1.54,-17.33],[1.99,-18.14],[1.3,-17.03],
[0.58,-17.27],[0.93,-18.33],[1.16,-17.44],[0.71,-19.62],[1.02,-17.61],[0.64,-18.15],[1.21,-18.79],[0.82,-17.32],[0.55,-18.97],[1.09,-19.21],[0.77,-17.86],[0.98,-19.78],[0.61,-17.66],[1.25,-17.79],[0.87,-18.58],[0.52,-17.52],[1.13,-18.02],[0.73,-18.44],[0.95,-17.43],[1.19,-19.53],[0.67,-19.04],[0.89,-17.95],[1.06,-18.71],[0.56,-19.36],[1.24,-18.27],[0.8,-19.16],[1.0,-18.08],[0.62,-17.38],[1.11,-17.26],[0.75,-17.74],[0.91,-19.45],[1.18,-18.5],[0.53,-18.38],[0.85,-17.6],[1.04,-19.89],[0.69,-17.99],[1.22,-17.53],[0.96,-18.82],[0.59,-19.74],[1.14,-19.06],[0.78,-18.63],[0.99,-17.73],[0.66,-18.76],[1.26,-19.33],[0.84,-19.96],[1.07,-17.36],[0.54,-18.07],[0.92,-17.24],[1.2,-17.98],[0.72,-17.47],[1.05,-18.46],[0.63,-19.27],[0.88,-18.19],[1.17,-18.64],[0.76,-19.85],[0.94,-19.0],[0.5,-17.91],[1.12,-19.68],[0.7,-18.91],[1.03,-17.17],
[1.63,-18.57],[2.48,-19.66],[3.31,-18.86],[4.17,-19.42],[1.84,-19.29],[2.71,-18.39],[3.59,-19.75],[4.42,-19.12],[2.02,-18.93],[2.93,-19.08],[3.78,-18.82],[4.71,-19.61],[1.56,-19.91],[2.39,-18.27],[3.15,-19.57],[4.03,-19.06],[1.92,-18.44],[2.81,-19.77],[3.66,-19.29],[4.58,-19.23],[2.14,-19.5],[3.04,-18.63],[3.92,-19.93],[4.86,-19.45],[1.71,-18.95],[2.56,-18.73],[3.44,-19.24],[4.29,-19.79],[2.26,-18.16],[3.21,-19.99],[4.1,-18.97],[1.98,-19.71],[2.87,-18.52],[3.72,-19.14],[4.64,-19.86],[1.59,-19.18],[2.43,-19.33],[3.37,-18.64],[4.24,-19.58],[2.09,-19.02],[2.99,-19.59],[3.84,-19.46],[4.8,-19.69],[1.79,-18.21],[2.63,-19.14],[3.53,-18.99],[4.36,-19.3],[2.31,-18.84],[3.1,-18.47],[3.98,-19.21],[4.93,-19.54],[1.67,-19.47],[2.52,-18.11],[3.41,-19.71],[4.21,-18.91],[2.18,-19.86],[3.07,-19.3],[3.89,-18.73],[4.52,-19.07],[1.88,-19.03],[2.76,-18.87],[3.62,-19.51],[4.47,-19.66],[2.05,-18.32],[2.97,-18.44],[3.81,-19.62],[4.68,-19.39],[1.52,-18.72],[2.35,-19.97],[3.26,-19.17],[4.13,-19.83],[1.95,-18.62],[2.84,-19.39],[3.69,-18.69],[4.6,-18.99],[2.22,-18.98],[3.12,-18.93],[4.06,-19.66],[4.97,-19.86],[1.75,-19.62],[2.61,-19.9],[3.49,-19.04],[4.33,-19.02],[2.12,-18.6],[3.01,-19.46],[3.94,-19.36],[4.77,-19.28],[1.6,-18.04],[2.47,-18.56],[3.34,-19.42],[4.19,-19.24],[2.29,-19.25],[3.18,-18.74],[4.01,-19.77],[4.89,-19.33],[1.83,-18.81],[2.67,-18.66],[3.57,-19.88],[4.4,-19.51],[2.0,-19.35],[2.9,-19.96],[3.76,-18.91],[4.55,-19.74],[1.69,-18.34],[2.55,-19.2],[3.47,-18.76],[4.27,-19.16],[2.37,-19.59],[3.28,-18.55],[4.08,-19.26]
];

// ---------- helpers ----------
const minorTicks = decs => decs.slice(0, -1).flatMap(e => [2,3,4,5,6,7,8,9].map(k => k * 10 ** e));
const toRows = pts => pts.map(([x, e]) => ({x, y: 10 ** e}));
const powFormat = d => "10^" + Math.round(Math.log10(d));
const gridStyle = {stroke: "#b0b0b0", strokeOpacity: 1, strokeWidth: 1, strokeDasharray: "1.2,2.8"};
const axisFont = {fontFamily: "'Liberation Serif', serif", fontSize: "21px", background: "transparent", overflow: "visible"};

function superscriptLabels(svg) {
  d3.select(svg).selectAll("text").each(function() {
    const m = /^10\^(-?\d+)$/.exec(this.textContent);
    if (!m) return;
    const t = d3.select(this);
    t.text("10");
    t.append("tspan").attr("dy", "-0.5em").attr("font-size", "0.68em").text(m[1].replace("-", "\u2212"));
  });
}

const wrap = document.getElementById("wrap");

// ---------- top chart ----------
const lineMarks = seriesData.map((pts, i) => Plot.line(toRows(pts), {
  x: "x", y: "y", stroke: seriesColors[i], strokeWidth: 2.6,
  strokeDasharray: seriesDashed[i] ? "9.5,4.2" : null, curve: "linear"
}));
const topChart = Plot.plot({
  width: 641, height: 505, marginLeft: 115, marginRight: 4, marginTop: 37, marginBottom: 78,
  style: axisFont,
  x: {domain: [0, 5]},
  y: {type: "log", domain: [1e-24, 1e-18]},
  marks: [
    Plot.gridX(xTicksTop.slice(1, -1), gridStyle),
    Plot.gridY(decadesTop.slice(1, -1).map(e => 10 ** e), gridStyle),
    ...lineMarks,
    Plot.frame({stroke: "#000", strokeWidth: 2}),
    Plot.axisX(xTicksTop, {tickSize: 7, tickPadding: 15, strokeWidth: 1.6, tickFormat: d => String(d), label: null}),
    Plot.axisY(minorTicks(decadesTop), {tickSize: 3.5, strokeWidth: 1.2, tickFormat: () => "", label: null}),
    Plot.axisY(decadesTop.map(e => 10 ** e), {tickSize: 7, tickPadding: 6, strokeWidth: 1.6, tickFormat: powFormat, label: null})
  ]
});
superscriptLabels(topChart);
topChart.style.top = "0px";
wrap.appendChild(topChart);

// ---------- bottom chart ----------
const botChart = Plot.plot({
  width: 641, height: 507, marginLeft: 114, marginRight: 3, marginTop: 48, marginBottom: 70,
  style: axisFont,
  x: {domain: [0.5, 5]},
  y: {type: "log", domain: [1e-20, 1e-16]},
  marks: [
    Plot.gridX(xTicksBottom.slice(0, -1), gridStyle),
    Plot.gridY(decadesBottom.slice(1, -1).map(e => 10 ** e), gridStyle),
    Plot.dot(toRows(subluminalColumns.concat(subluminalBands, subluminalScatter)), {x: "x", y: "y", r: 2.25, fill: "#1f77b4", clip: true}),
    Plot.dot(toRows(superluminalColumns.concat(superluminalBands, superluminalScatter)), {x: "x", y: "y", r: 2.75, symbol: "square", fill: "#ff7f0e", clip: true}),
    Plot.frame({stroke: "#000", strokeWidth: 2}),
    Plot.axisX(xTicksBottom, {tickSize: 7, tickPadding: 15, strokeWidth: 1.6, tickFormat: d => String(d), label: null}),
    Plot.axisY(minorTicks(decadesBottom), {tickSize: 3.5, strokeWidth: 1.2, tickFormat: () => "", label: null}),
    Plot.axisY(decadesBottom.map(e => 10 ** e), {tickSize: 7, tickPadding: 6, strokeWidth: 1.6, tickFormat: powFormat, label: null})
  ]
});
superscriptLabels(botChart);
botChart.style.top = "510px";
wrap.appendChild(botChart);

// ---------- text and legends ----------
function add(html, cls, css) {
  const d = document.createElement("div");
  d.className = "abs " + cls;
  d.innerHTML = html;
  Object.assign(d.style, css);
  wrap.appendChild(d);
  return d;
}
const M = s => `<span class="m">${s}</span>`;
const S = s => `<span class="sub">${s}</span>`;
const R = s => `<span class="r">${s}</span>`;
add("Approximate exclusion capability", "title", {top: "4px"});
add("Exclusion from GW170817 data", "title", {top: "528px"});
add(`${M("σ")}: power law slope parameter`, "xlab", {top: "471px"});
add(`${M("σ")}: power law slope parameter`, "xlab", {top: "991px"});
add(`${M("δc")}${S("GW")}${R("(")}${M("f")}${S("ref")}${R(")")}: Deviation from ${M("c")} at ${M("f")}${S("ref")}`, "ylab", {left: "23px", top: "232px"});
add(`${M("δc")}${S("GW")}${R("(30)")}: Deviation from ${M("c")} at 30Hz`, "ylab", {left: "23px", top: "752px"});

// top legend
const lg1 = document.createElement("div");
lg1.className = "legend";
Object.assign(lg1.style, {left: "389px", top: "141px", width: "241px", height: "182px"});
wrap.appendChild(lg1);
seriesData.forEach((_, i) => {
  const cy = 156.5 + i * 29.3;
  const svgNS = "http://www.w3.org/2000/svg";
  const s = document.createElementNS(svgNS, "svg");
  s.setAttribute("width", 46); s.setAttribute("height", 6);
  s.style.left = "397px"; s.style.top = (cy - 3) + "px";
  const l = document.createElementNS(svgNS, "line");
  l.setAttribute("x1", 0); l.setAttribute("x2", 46); l.setAttribute("y1", 3); l.setAttribute("y2", 3);
  l.setAttribute("stroke", seriesColors[i]); l.setAttribute("stroke-width", 2.6);
  if (seriesDashed[i]) l.setAttribute("stroke-dasharray", "9.5,4.2");
  s.appendChild(l);
  wrap.appendChild(s);
  add(`${legendDetector[i]}; ${M("f")}${S("ref")}${R("=")}${legendFreq[i]}`, "lt", {left: "457px", top: (cy - 11) + "px"});
});

// bottom legend
const lg2 = document.createElement("div");
lg2.className = "legend";
Object.assign(lg2.style, {left: "405px", top: "569px", width: "225px", height: "64px"});
wrap.appendChild(lg2);
const mk = document.createElementNS("http://www.w3.org/2000/svg", "svg");
mk.setAttribute("width", 20); mk.setAttribute("height", 50);
mk.style.left = "411px"; mk.style.top = "577px";
mk.innerHTML = `<circle cx="10" cy="10" r="4.2" fill="#1f77b4"/><rect x="5.5" y="34.5" width="9" height="9" fill="#ff7f0e"/>`;
wrap.appendChild(mk);
add(`Subluminal ${M("δc")}${S("GW")}`, "lt", {left: "460px", top: "576px"});
add(`Superluminal ${M("δc")}${S("GW")}`, "lt", {left: "460px", top: "605px"});
</script></body></html>
